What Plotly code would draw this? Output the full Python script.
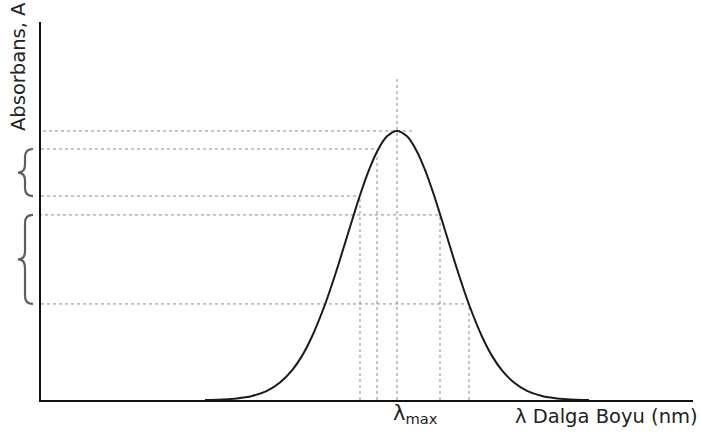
import plotly.graph_objects as go

# Absorbance spectrum (wavelength offset, absorbance relative to peak)
wavelength = [164, 181, 196, 211, 226, 239, 251, 261, 271, 284, 296, 306, 313, 320, 328,
              336, 346, 356, 366, 376, 384, 392, 399, 406, 416, 428, 441, 451, 461,
              473, 486, 501, 516, 531, 548]
absorbance = [0.0, 0.002, 0.006, 0.015, 0.034, 0.065, 0.110, 0.164, 0.236, 0.355, 0.487,
              0.607, 0.691, 0.772, 0.855, 0.923, 0.980, 1.0, 0.980, 0.923, 0.855, 0.772,
              0.691, 0.607, 0.487, 0.355, 0.236, 0.164, 0.110, 0.065, 0.034, 0.015, 0.006,
              0.002, 0.0]

# Dotted guide lines
h_levels = [1.0, 0.933, 0.758, 0.688, 0.357]
h_start = [2, 0, 0, -2, 0]
h_end = [374, 336, 319, 399, 428]
v_pos = [319, 336, 356, 399, 428]
v_top = [0.758, 0.933, 1.204, 0.688, 0.357]

# Braces (absorbance ranges marked on the left)
brace_ranges = [(0.933, 0.758), (0.688, 0.357)]

x_range = [0, 652]
y_range = [0, 1.405]

fig = go.Figure()

guide = dict(color="#8a8a8a", width=1, dash="dot")
for lv, xs, xe in zip(h_levels, h_start, h_end):
    fig.add_trace(go.Scatter(x=[xs, xe], y=[lv, lv], mode="lines", line=guide,
                             hoverinfo="skip", showlegend=False, cliponaxis=False))
for xv, yt in zip(v_pos, v_top):
    fig.add_trace(go.Scatter(x=[xv, xv], y=[0, yt], mode="lines", line=guide,
                             hoverinfo="skip", showlegend=False))

fig.add_trace(go.Scatter(x=wavelength, y=absorbance, mode="lines",
                         line=dict(color="#1a1a1a", width=2, shape="spline"),
                         showlegend=False))

# braces drawn in paper-x / data-y coordinates
W = 652.0
def px(p):
    return (p - 41) / W

for top, bot in brace_ranges:
    mid = (top + bot) / 2
    c = 0.03  # curl height in absorbance units
    xe, xs, xt = px(33), px(25), px(18)
    path = (f"M {xe},{top} Q {xs},{top} {xs},{top - c} "
            f"L {xs},{mid + c} Q {xs},{mid} {xt},{mid} "
            f"Q {xs},{mid} {xs},{mid - c} "
            f"L {xs},{bot + c} Q {xs},{bot} {xe},{bot}")
    fig.add_shape(type="path", path=path, xref="paper", yref="y",
                  line=dict(color="#5e5e5e", width=2.2))

fig.add_annotation(text="Absorbans, A", textangle=-90, xref="paper", yref="paper",
                   x=px(18), y=(400 - 67) / 378, xanchor="center", yanchor="middle",
                   showarrow=False,
                   font=dict(family="DejaVu Sans", size=19.5, color="#222222"))
fig.add_annotation(text="λ Dalga Boyu (nm)", xref="paper", yref="paper",
                   x=px(700), y=(400 - 416) / 378, xanchor="right", yanchor="middle",
                   showarrow=False,
                   font=dict(family="DejaVu Sans", size=19.5, color="#222222"))
fig.add_annotation(text="λ<sub>max</sub>", xref="x", yref="paper",
                   x=350, y=(400 - 414) / 378, xanchor="left", yanchor="middle",
                   showarrow=False,
                   font=dict(family="DejaVu Sans", size=21, color="#222222"))

fig.update_layout(
    width=701, height=439,
    margin=dict(l=41, r=8, t=22, b=39),
    paper_bgcolor="white", plot_bgcolor="white",
    xaxis=dict(range=x_range, showgrid=False, zeroline=False, showticklabels=False,
               ticks="", showline=True, linecolor="#111111", linewidth=2),
    yaxis=dict(range=y_range, showgrid=False, zeroline=False, showticklabels=False,
               ticks="", showline=True, linecolor="#111111", linewidth=2),
)

fig.write_html("out.html")
